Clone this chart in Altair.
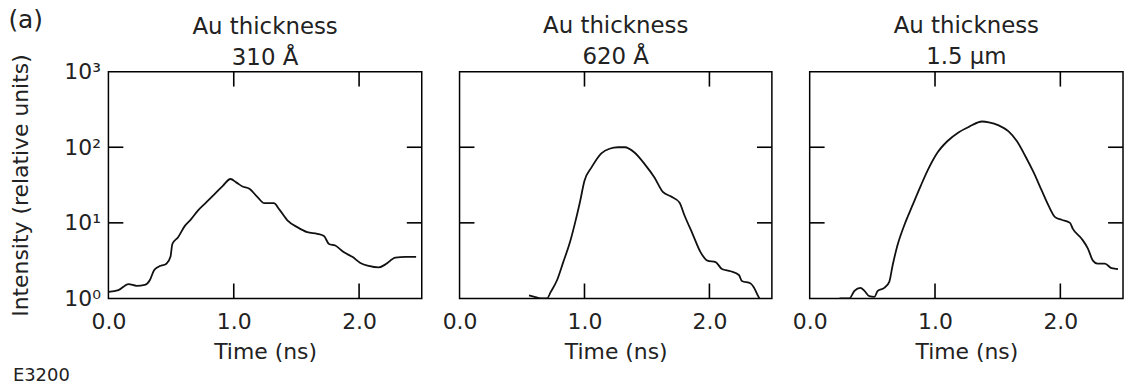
import altair as alt
import pandas as pd

# ---------------- data ----------------
t_310 = [0.00, 0.08, 0.16, 0.225, 0.29, 0.33, 0.363, 0.397, 0.463, 0.495, 0.51, 0.556,
         0.61, 0.66, 0.714, 0.78, 0.847, 0.913, 0.974, 1.02, 1.07, 1.125, 1.19, 1.244,
         1.32, 1.363, 1.43, 1.51, 1.587, 1.667, 1.72, 1.76, 1.81, 1.88, 1.946, 2.01,
         2.077, 2.156, 2.21, 2.29, 2.37, 2.455]
i_310 = [1.22, 1.29, 1.55, 1.47, 1.51, 1.74, 2.34, 2.61, 2.88, 3.55, 5.25, 6.46,
         9.12, 11.2, 14.5, 18.6, 24.0, 30.9, 38.0, 34.3, 30.2, 28.2, 21.9, 18.2,
         18.2, 15.1, 10.7, 8.71, 7.53, 7.16, 6.68, 5.25, 5.01, 4.07, 3.55, 2.95,
         2.69, 2.57, 2.82, 3.47, 3.55, 3.55]

t_620 = [0.556, 0.60, 0.65, 0.70, 0.73, 0.78, 0.83, 0.884, 0.923, 0.963, 1.0, 1.055,
         1.135, 1.2, 1.27, 1.323, 1.40, 1.48, 1.56, 1.627, 1.69, 1.76, 1.80, 1.865,
         1.93, 1.984, 2.05, 2.10, 2.17, 2.236, 2.26, 2.33, 2.355, 2.387, 2.40]
i_620 = [1.10, 1.05, 1.0, 1.0, 1.22, 1.74, 3.02, 5.56, 9.77, 18.6, 36.0, 53.7,
         83.2, 95.5, 100, 100, 85.1, 60.3, 39.8, 25.7, 22.4, 18.6, 12.6, 7.16,
         4.07, 3.16, 3.02, 2.45, 2.29, 2.04, 1.70, 1.58, 1.41, 1.10, 1.0]

t_15um = [0.238, 0.317, 0.357, 0.405, 0.437, 0.476, 0.516, 0.543, 0.595, 0.635, 0.662,
          0.70, 0.754, 0.82, 0.886, 0.952, 1.02, 1.098, 1.19, 1.27, 1.376, 1.43, 1.508,
          1.587, 1.654, 1.72, 1.786, 1.852, 1.905, 1.958, 2.01, 2.077, 2.10, 2.17, 2.22,
          2.26, 2.297, 2.355, 2.41, 2.46]
i_15um = [1.0, 1.0, 1.26, 1.38, 1.26, 1.07, 1.05, 1.26, 1.38, 1.66, 2.75,
          5.01, 9.23, 17.0, 30.9, 53.7, 85.1, 120, 158, 186, 219, 214, 195,
          162, 120, 76.7, 46.8, 26.6, 17.0, 11.9, 11.0, 10.0, 8.32, 6.17, 4.57,
          3.16, 2.88, 2.88, 2.51, 2.45]

panel_titles = [["Au thickness", "310 Å"], ["Au thickness", "620 Å"], ["Au thickness", "1.5 μm"]]
x_tick_values = [0.0, 1.0, 2.0]
x_domain = [0.0, 2.5]
y_domain = [1, 1000]
y_tick_values = [1, 10, 100, 1000]
y_tick_labels = ["10⁰", "10¹", "10²", "10³"]
inner_x_ticks = [1.0, 2.0]
inner_y_ticks = [10, 100]
x_title = "Time (ns)"
y_title = "Intensity (relative units)"
corner_label = "(a)"
figure_code = ["E3200"]

# ---------------- style ----------------
FONT = "DejaVu Sans"
TXT = "#222222"
WIDTHS = [315, 314, 315]
H = 228
TICK = 15
TITLE_OFFSETS = [-16, 2, 2]   # panel 1's bounds reach higher because of the long y title

label_expr = " : ".join(f"datum.value == {v} ? '{l}'" for v, l in zip(y_tick_values, y_tick_labels)) + " : ''"


def panel(idx, t, vals, first):
    W = WIDTHS[idx]
    xs = alt.Scale(domain=x_domain, nice=False, zero=False)
    ys = alt.Scale(type="log", domain=y_domain, nice=False)
    xaxis = alt.Axis(values=x_tick_values, format=".1f", title=x_title, ticks=False, tickSize=0,
                     domain=False, grid=False, labelFlush=False, labelOverlap=False,
                     labelPadding=13, titlePadding=9, labelFontSize=22, titleFontSize=22)
    if first:
        yaxis = alt.Axis(values=y_tick_values, labelExpr=label_expr, title=y_title, ticks=False,
                         tickSize=0, domain=False, grid=False, labelFlush=False, labelOverlap=False,
                         labelPadding=8, titlePadding=37, titleBaseline="alphabetic",
                         labelFontSize=22, titleFontSize=22)
    else:
        yaxis = None

    X = lambda f: alt.X(f, scale=xs, axis=xaxis)
    Y = lambda f: alt.Y(f, scale=ys, axis=yaxis)

    df = pd.DataFrame({"t": t, "v": vals})
    line = alt.Chart(df).mark_line(color="#111111", strokeWidth=1.8, interpolate="monotone",
                                   clip=True).encode(x=X("t:Q"), y=Y("v:Q"))

    xt = alt.Chart(pd.DataFrame({"t": inner_x_ticks}))
    yt = alt.Chart(pd.DataFrame({"v": inner_y_ticks}))
    rule = dict(color="black", strokeWidth=1.6)
    bot = xt.mark_rule(**rule).encode(x=X("t:Q"), y=alt.value(H), y2=alt.value(H - TICK))
    top = xt.mark_rule(**rule).encode(x=X("t:Q"), y=alt.value(0), y2=alt.value(TICK))
    lef = yt.mark_rule(**rule).encode(y=Y("v:Q"), x=alt.value(0), x2=alt.value(TICK))
    rig = yt.mark_rule(**rule).encode(y=Y("v:Q"), x=alt.value(W - TICK), x2=alt.value(W))

    layers = [line, bot, top, lef, rig]
    if first:
        e = alt.Chart(pd.DataFrame({"s": figure_code})).mark_text(
            align="left", baseline="alphabetic", fontSize=18, font=FONT, color=TXT
        ).encode(x=alt.value(-96), y=alt.value(311), text="s:N")
        layers += [e]

    return alt.layer(*layers).properties(
        width=W, height=H,
        title=alt.TitleParams(text=panel_titles[idx], fontSize=23, font=FONT, fontWeight="normal",
                              color=TXT, lineHeight=31, offset=TITLE_OFFSETS[idx], anchor="middle"),
    )


chart = alt.hconcat(
    panel(0, t_310, i_310, True),
    panel(1, t_620, i_620, False),
    panel(2, t_15um, i_15um, False),
    spacing=38, bounds="flush",
).properties(
    padding={"left": 8, "top": 7, "right": 0, "bottom": 0},
    title=alt.TitleParams(text=corner_label, anchor="start", offset=0, dx=0, dy=19,
                          fontSize=25, font=FONT, fontWeight="normal", color=TXT),
).configure_view(
    stroke="black", strokeWidth=1.5
).configure_axis(
    labelFont=FONT, titleFont=FONT, labelColor=TXT, titleColor=TXT, titleFontWeight="normal"
).configure_title(
    font=FONT, fontWeight="normal", color=TXT
)

chart.save("out.html", embed_options={"renderer": "svg", "actions": False})
